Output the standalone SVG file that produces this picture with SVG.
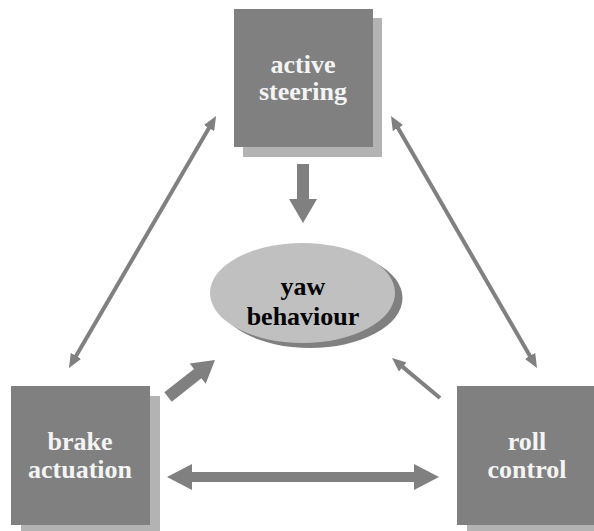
<svg xmlns="http://www.w3.org/2000/svg" width="594" height="531" viewBox="0 0 594 531">
  <style>
    .box { fill: #808080; }
    .shadow { fill: #b3b3b3; }
    .label { font-family: 'Liberation Serif', 'DejaVu Serif', serif; font-weight: 700; font-size: 26px; text-anchor: middle; }
    .light { fill: #f4f4f4; }
    .dark { fill: #000000; }
    .thick { fill: #808080; }
    .thin { stroke: #808080; stroke-width: 4; fill: none; }
  </style>
  <defs>
    <marker id="head" markerUnits="userSpaceOnUse" markerWidth="14" markerHeight="12" refX="4" refY="6" orient="auto-start-reverse">
      <path d="M0,0 L14,6 L0,12 z" fill="#808080"/>
    </marker>
  </defs>
  <rect width="594" height="531" fill="#ffffff"/>

  <g id="connectors">
    <!-- influence of steering on yaw -->
    <polygon class="thick" points="297,164 309,164 309,199 317,199 303,223 289,199 297,199"/>
    <!-- brake to yaw -->
    <polygon class="thick" points="164.3,392.3 194,368.9 189.7,363.4 215,360 205.7,383.8 201.4,378.3 171.7,401.7"/>
    <!-- brake <-> roll -->
    <polygon class="thick" points="167,477 192,464 192,472 414,472 414,464 439,477 414,490 414,482 192,482 192,490"/>
    <!-- thin links -->
    <line class="thin" x1="74" y1="359.4" x2="211" y2="124.6" marker-start="url(#head)" marker-end="url(#head)"/>
    <line class="thin" x1="532" y1="359.4" x2="396" y2="124.6" marker-start="url(#head)" marker-end="url(#head)"/>
    <line class="thin" x1="440" y1="398" x2="399.7" y2="364.4" marker-end="url(#head)"/>
  </g>

  <g id="active-steering">
    <rect class="shadow" x="243" y="18" width="139" height="139"/>
    <rect class="box" x="234" y="9" width="139" height="138"/>
    <text class="label light" x="303" y="73" font-family="Liberation Serif">active</text>
    <text class="label light" x="303" y="100" font-family="Liberation Serif">steering</text>
  </g>

  <g id="yaw-behaviour">
    <ellipse cx="310" cy="298" rx="92.5" ry="50" fill="#808080"/>
    <ellipse cx="302.5" cy="293" rx="92.5" ry="50" fill="#c0c0c0"/>
    <text class="label dark" x="303" y="295">yaw</text>
    <text class="label dark" x="303" y="325">behaviour</text>
  </g>

  <g id="brake-actuation">
    <rect class="shadow" x="21" y="396" width="139" height="139"/>
    <rect class="box" x="11" y="386" width="139" height="139"/>
    <text class="label light" x="80" y="450">brake</text>
    <text class="label light" x="80" y="478">actuation</text>
  </g>

  <g id="roll-control">
    <rect class="shadow" x="467" y="396" width="139" height="139"/>
    <rect class="box" x="457" y="386" width="139" height="139"/>
    <text class="label light" x="527" y="450">roll</text>
    <text class="label light" x="527" y="478">control</text>
  </g>
</svg>
